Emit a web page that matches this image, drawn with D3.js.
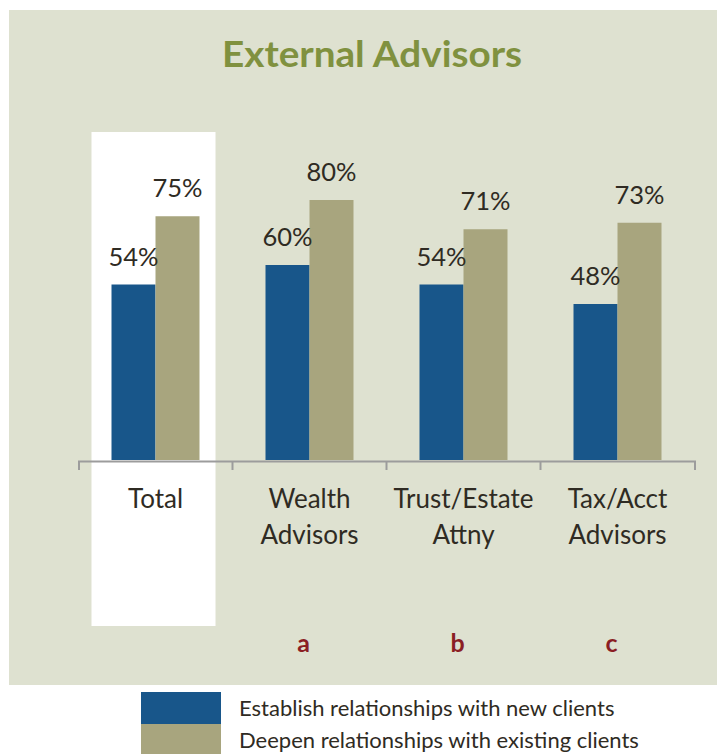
<!DOCTYPE html>
<html>
<head>
<meta charset="utf-8">
<script src="https://cdn.jsdelivr.net/npm/d3@7"></script>
<style>
  html, body { margin: 0; padding: 0; background: #fff; }
  svg { display: block; }
</style>
</head>
<body>
<svg id="chart" width="717" height="754"></svg>
<script>
const categories = ['Total', 'Wealth Advisors', 'Trust/Estate Attny', 'Tax/Acct Advisors'];
const categoryLines = [['Total'], ['Wealth', 'Advisors'], ['Trust/Estate', 'Attny'], ['Tax/Acct', 'Advisors']];
const series = ['Establish relationships with new clients', 'Deepen relationships with existing clients'];
const newClients = [54, 60, 54, 48];
const existingClients = [75, 80, 71, 73];
const sigLetters = ['', 'a', 'b', 'c'];

const colors = ['#18568a', '#a8a57e'];
const textColor = '#2f2b23';
const font = 'Lato, "Open Sans", sans-serif';

const svg = d3.select('#chart');

// panel background
svg.append('rect')
  .attr('x', 9).attr('y', 10)
  .attr('width', 717 - 9).attr('height', 675)
  .attr('fill', '#dee1d0');

svg.append('text')
  .attr('x', 372).attr('y', 67)
  .attr('text-anchor', 'middle')
  .attr('fill', '#80913f')
  .attr('textLength', 300)
  .attr('lengthAdjust', 'spacingAndGlyphs')
  .style('font-family', font)
  .style('font-weight', 'bold')
  .style('font-size', '36px')
  .text('External Advisors');

const x = d3.scaleBand().domain(categories).range([78.5, 694.5]);
const x1 = d3.scaleBand().domain(series).range([0, x.bandwidth()]).paddingOuter(0.75);
const y = d3.scaleLinear().domain([0, 100]).range([460, 135]);

// white highlight behind the Total group
svg.append('rect')
  .attr('x', x('Total') + x.bandwidth() / 2 - 64)
  .attr('y', 132)
  .attr('width', 124)
  .attr('height', 494)
  .attr('fill', '#ffffff');

const rows = categories.map((c, i) => ({
  cat: c,
  values: [newClients[i], existingClients[i]]
}));

const groups = svg.selectAll('g.grp')
  .data(rows)
  .join('g')
  .attr('class', 'grp')
  .attr('transform', d => `translate(${x(d.cat)},0)`);

groups.selectAll('rect')
  .data(d => d.values.map((v, j) => ({ key: series[j], v, j })))
  .join('rect')
  .attr('x', d => x1(d.key))
  .attr('y', d => y(d.v))
  .attr('width', x1.bandwidth())
  .attr('height', d => y(0) - y(d.v))
  .attr('fill', d => colors[d.j]);

groups.selectAll('text.val')
  .data(d => d.values.map((v, j) => ({ key: series[j], v, j })))
  .join('text')
  .attr('class', 'val')
  .attr('x', d => x1(d.key) + x1.bandwidth() / 2)
  .attr('y', d => y(d.v) - 19)
  .attr('text-anchor', 'middle')
  .attr('fill', textColor)
  .style('font-family', font)
  .style('font-size', '25.5px')
  .text(d => d.v + '%');

// axis
const axis = svg.append('g')
  .attr('transform', 'translate(0,461)')
  .call(d3.axisBottom(x).tickSize(0).tickSizeOuter(9).tickFormat(''));
axis.select('.domain').attr('stroke', '#9c9c9c').attr('stroke-width', 2);
axis.selectAll('.tick').remove();

svg.append('g')
  .selectAll('line')
  .data(categories.slice(1))
  .join('line')
  .attr('x1', d => x(d)).attr('x2', d => x(d))
  .attr('y1', 461).attr('y2', 470)
  .attr('stroke', '#9c9c9c')
  .attr('stroke-width', 2);

// category labels
svg.append('g')
  .selectAll('text')
  .data(categories)
  .join('text')
  .attr('x', d => x(d) + x.bandwidth() / 2)
  .attr('y', 508)
  .attr('text-anchor', 'middle')
  .attr('fill', textColor)
  .style('font-family', font)
  .style('font-size', '26px')
  .selectAll('tspan')
  .data((d, i) => categoryLines[i])
  .join('tspan')
  .attr('x', function () { return this.parentNode.getAttribute('x'); })
  .attr('dy', (d, i) => i === 0 ? 0 : 36)
  .text(d => d);

// significance letters
svg.append('g')
  .selectAll('text')
  .data(categories)
  .join('text')
  .attr('x', d => x(d) + x.bandwidth() / 2 - 6)
  .attr('y', 652)
  .attr('text-anchor', 'middle')
  .attr('fill', '#8b1e24')
  .style('font-family', font)
  .style('font-weight', 'bold')
  .style('font-size', '25px')
  .text((d, i) => sigLetters[i]);

// legend
const legend = svg.append('g');
series.forEach((s, i) => {
  legend.append('rect')
    .attr('x', 141).attr('y', 692 + i * 32)
    .attr('width', 80).attr('height', 32)
    .attr('fill', colors[i]);
  legend.append('text')
    .attr('x', 239).attr('y', 716 + i * 32)
    .attr('fill', textColor)
    .style('font-family', font)
    .style('font-size', '22px')
    .text(s);
});
</script>
</body>
</html>
